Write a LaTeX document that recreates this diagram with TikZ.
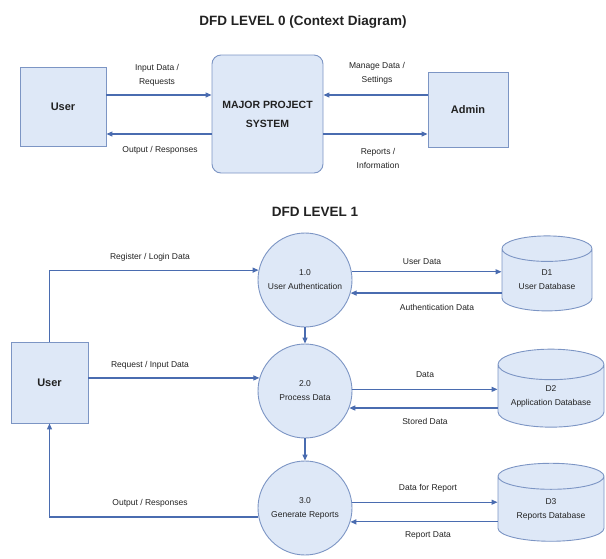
\documentclass[tikz,border=0pt]{standalone}
\usepackage{fontspec}
\setmainfont{Liberation Sans}
\usetikzlibrary{shapes.geometric,arrows.meta,calc}
\definecolor{boxfill}{HTML}{DEE8F7}
\definecolor{boxline}{HTML}{7C95C4}
\definecolor{flowcol}{HTML}{4A6CB0}
\definecolor{txt}{HTML}{222222}
\tikzset{
  entity/.style={draw=boxline, fill=boxfill, line width=0.9pt, font=\fontsize{11}{13}\selectfont\bfseries, text=txt},
  sysbox/.style={draw=boxline, fill=boxfill, line width=0.9pt, rounded corners=9pt, align=center, font=\fontsize{10.5}{19}\selectfont\bfseries, text=txt, minimum width=111pt, minimum height=118pt},
  proc/.style={circle, draw=boxline, fill=boxfill, line width=0.9pt, minimum size=94pt, inner sep=0pt, align=center, font=\fontsize{8.5}{14}\selectfont, text=txt},
  store/.style={cylinder, shape border rotate=90, aspect=0.45, draw=boxline, fill=boxfill, line width=0.9pt, align=center, font=\fontsize{8.5}{14}\selectfont, text=txt, inner sep=0pt},
  flow/.style={draw=flowcol, line width=1.2pt, -{Triangle[length=6pt,width=5pt]}},
  flowlabel/.style={font=\fontsize{8.5}{14}\selectfont, text=txt, align=center},
  titletext/.style={font=\fontsize{13.5}{16}\selectfont\bfseries, text=txt}
}
\begin{document}
\begin{tikzpicture}[x=1pt,y=-1pt]
\useasboundingbox (0,0) rectangle (606,558);
% ---------- Level 0 ----------
\node[titletext] (t0) at (303,22) {DFD LEVEL 0 (Context Diagram)};
\node[entity, minimum width=86pt, minimum height=79pt] (u0) at (63,106.5) {User};
\node[sysbox] (sys) at (267.5,114) {MAJOR PROJECT\\SYSTEM};
\node[entity, minimum width=80pt, minimum height=75pt] (ad) at (468,109.5) {Admin};
\coordinate (y0a) at (0,95);
\coordinate (y0b) at (0,134);
\draw[flow] (u0.east |- y0a) -- (sys.west |- y0a);
\draw[flow] (sys.west |- y0b) -- (u0.east |- y0b);
\draw[flow] (ad.west |- y0a) -- (sys.east |- y0a);
\draw[flow] (sys.east |- y0b) -- (ad.west |- y0b);
\node[flowlabel] (l01) at (157,75) {Input Data /\\Requests};
\node[flowlabel] (l02) at (160,150) {Output / Responses};
\node[flowlabel] (l03) at (377,73) {Manage Data /\\Settings};
\node[flowlabel] (l04) at (378,158) {Reports /\\Information};
% ---------- Level 1 ----------
\node[titletext] (t1) at (315,212) {DFD LEVEL 1};
\node[entity, minimum width=77pt, minimum height=81pt] (u1) at (49.5,382.5) {User};
\node[proc] (c1) at (305,280) {1.0\\User Authentication};
\node[proc] (c2) at (305,391) {2.0\\Process Data};
\node[proc] (c3) at (305,508) {3.0\\Generate Reports};
\node[store, aspect=0.45, minimum width=90pt, minimum height=75pt] (d1) at (547,280) {D1\\User Database};
\node[store, aspect=0.38, minimum width=106pt, minimum height=78pt] (d2) at (551,396) {D2\\Application Database};
\node[store, aspect=0.38, minimum width=106pt, minimum height=78pt] (d3) at (551,509) {D3\\Reports Database};
% user flows
\draw[flow] (u1.north) |- (c1.168);
\draw[flow] (c2.164 -| u1.east) -- (c2.164);
\draw[flow] (c3.191) -| (u1.south);
\node[flowlabel] (l11) at (150,257) {Register / Login Data};
\node[flowlabel] (l12) at (150,365) {Request / Input Data};
\node[flowlabel] (l13) at (150,503) {Output / Responses};
% process chain
\draw[flow] (c1.south) -- (c2.north);
\draw[flow] (c2.south) -- (c3.north);
% store flows
\draw[flow] (c1.10) -- (c1.10 -| d1.west);
\draw[flow] (c1.-16 -| d1.west) -- (c1.-16);
\draw[flow] (c2.2) -- (c2.2 -| d2.west);
\draw[flow] (c2.-21 -| d2.west) -- (c2.-21);
\draw[flow] (c3.7) -- (c3.7 -| d3.west);
\draw[flow] (c3.-17 -| d3.west) -- (c3.-17);
\node[flowlabel] (l21) at (422,262) {User Data};
\node[flowlabel] (l22) at (437,307) {Authentication Data};
\node[flowlabel] (l23) at (425,375) {Data};
\node[flowlabel] (l24) at (425,421) {Stored Data};
\node[flowlabel] (l25) at (428,488) {Data for Report};
\node[flowlabel] (l26) at (428,535) {Report Data};
\end{tikzpicture}
\end{document}
